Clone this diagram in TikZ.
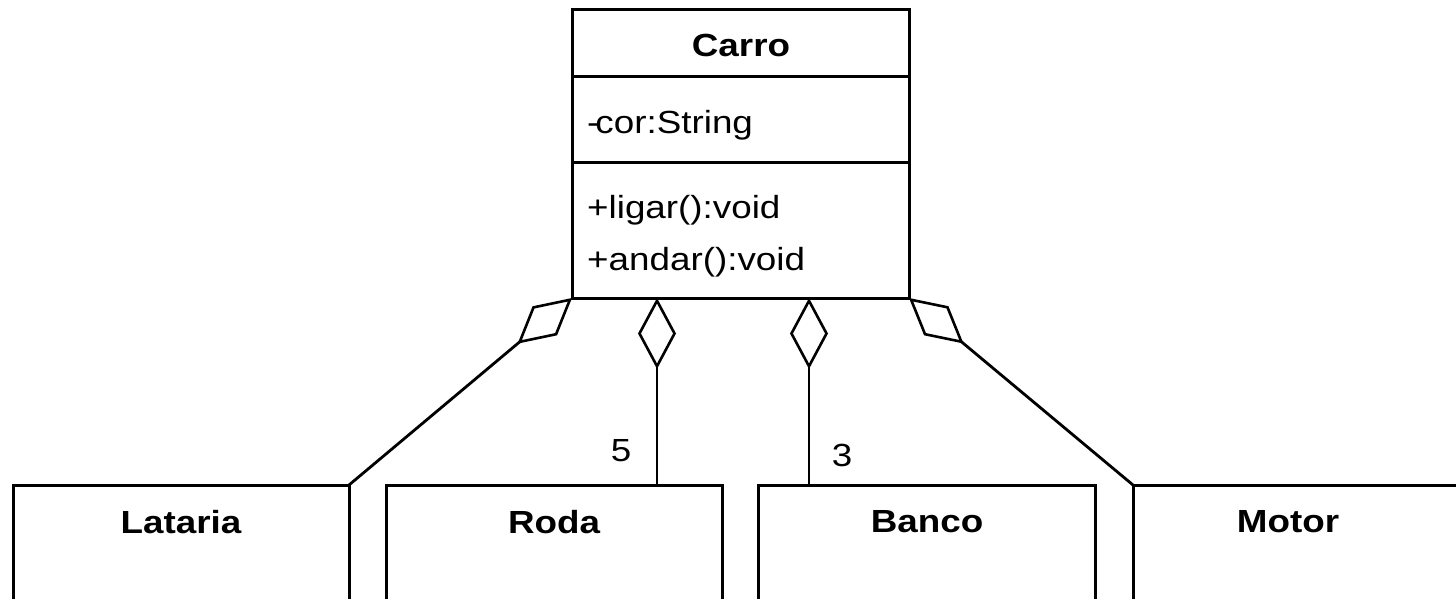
\documentclass[tikz,border=0pt]{standalone}
\usepackage{fontspec}
\setmainfont{Liberation Sans}
\newfontfamily\umlfont[FakeStretch=1.15]{Liberation Sans}
\usetikzlibrary{arrows.meta}
\begin{document}
\begin{tikzpicture}[x=1pt,y=-1pt,
  font=\umlfont\fontsize{32}{38}\selectfont,
  classbox/.style={draw, line width=3pt, rectangle, outer sep=0pt, inner sep=0pt, anchor=north west},
  title/.style={font=\umlfont\bfseries\fontsize{32}{38}\selectfont, inner sep=0pt},
  member/.style={anchor=west, inner sep=0pt},
  agg/.style={line width=2.8pt, {Diamond[open, length=71pt, width=38pt, line width=2.6pt]}-},
  mult/.style={inner sep=0pt}
]
\useasboundingbox (0,0) rectangle (1456,599);
\clip (0,0) rectangle (1456,599);

% the whole class
\node[classbox, minimum width=337pt, minimum height=288pt] (carro) at (572,10) {};
\draw[line width=3pt] (572,77) -- (909,77);
\draw[line width=3pt] (572,162) -- (909,162);
\node[title] (carroname) at (741,45) {Carro};
\node[member] (cor) at (587,125) {-\kern-4pt cor:String};
\node[member] (ligar) at (587,210) {+ligar():void};
\node[member] (andar) at (587,262) {+andar():void};

% part classes
\node[classbox, minimum width=336pt, minimum height=160pt] (lataria) at (13,485) {};
\node[classbox, minimum width=336pt, minimum height=160pt] (roda) at (386,485) {};
\node[classbox, minimum width=337pt, minimum height=160pt] (banco) at (758,485) {};
\node[classbox, minimum width=337pt, minimum height=160pt] (motor) at (1133,485) {};
\node[title] (latarianame) at (181,522) {Lataria};
\node[title] (rodaname) at (554,522) {Roda};
\node[title] (banconame) at (927,522) {Banco};
\node[title] (motorname) at (1288,522) {Motor};

% attachment points on the class borders
\coordinate (c5) at (657,298);
\coordinate (c3) at (809,298);
\coordinate (r5) at (657,485);
\coordinate (b3) at (809,485);

% aggregations
\draw[agg] (carro.south west) -- (lataria.north east);
\draw[agg] (c5) -- (r5);
\draw[agg] (c3) -- (b3);
\draw[agg] (carro.south east) -- (motor.north west);

% multiplicities
\node[mult] (m5) at (621,451) {5};
\node[mult] (m3) at (842,455) {3};
\end{tikzpicture}
\end{document}
